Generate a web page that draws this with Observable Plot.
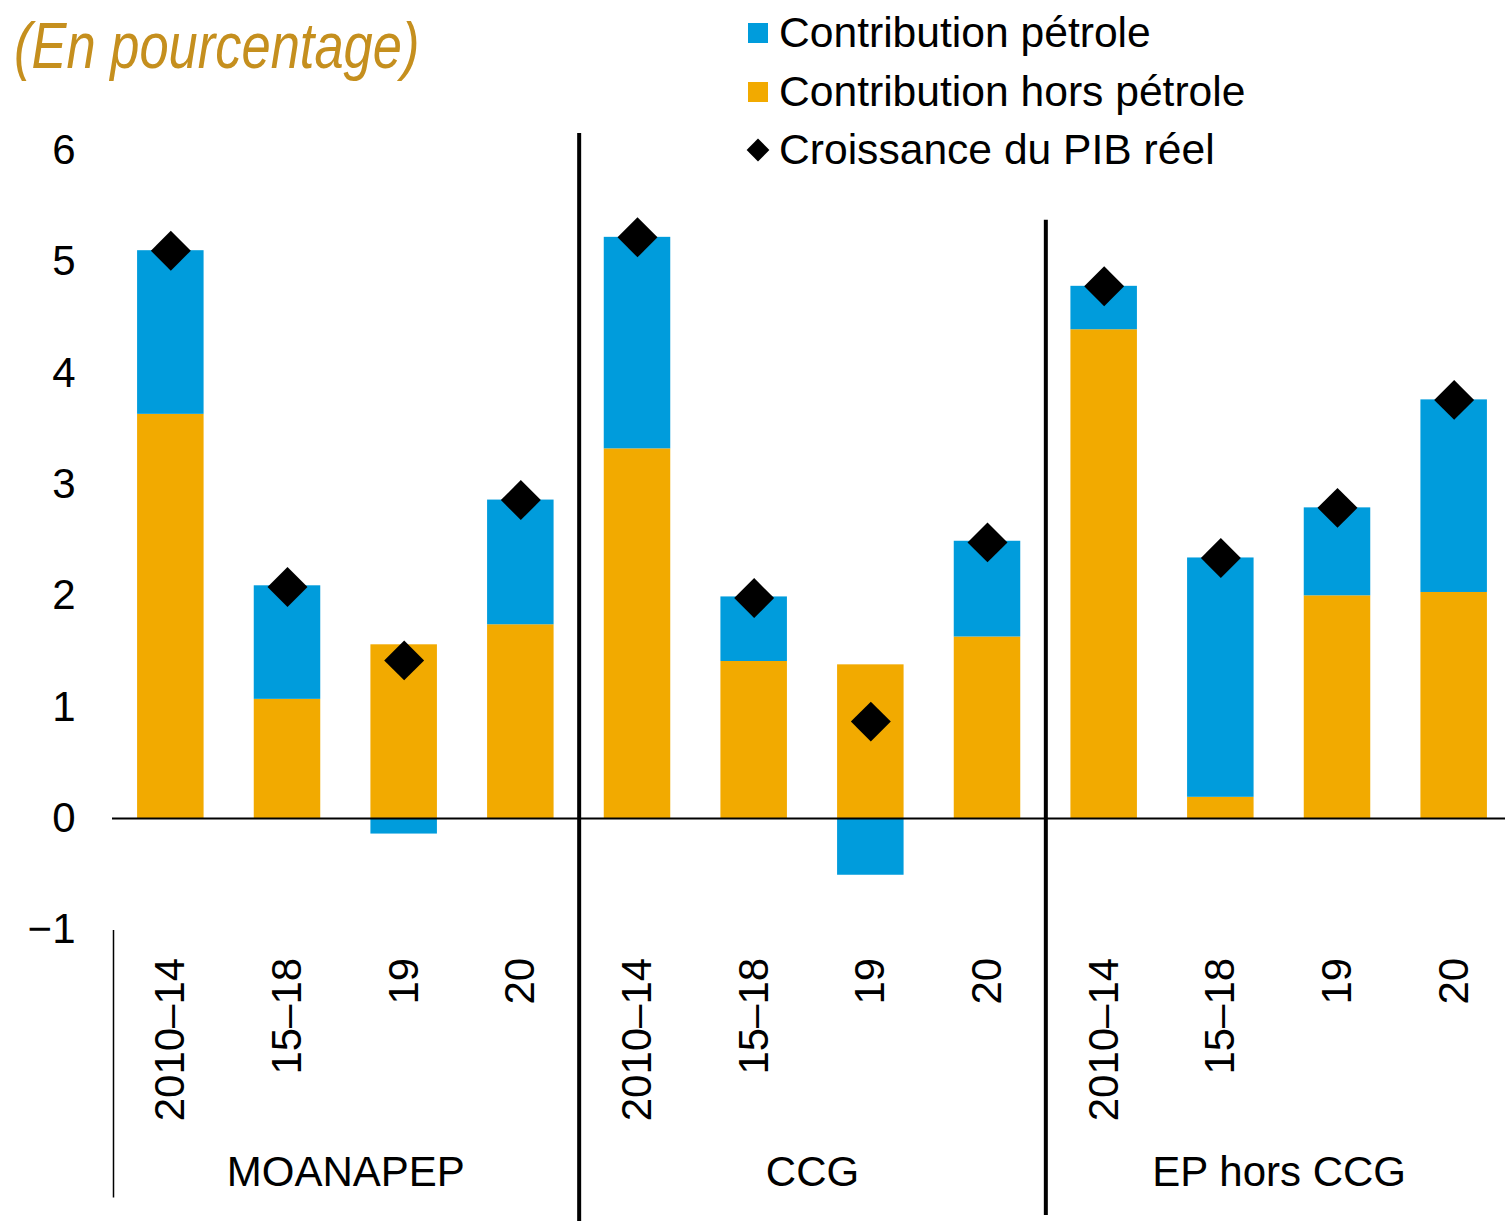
<!DOCTYPE html>
<html><head><meta charset="utf-8">
<script src="https://cdn.jsdelivr.net/npm/d3@7"></script>
<script src="https://cdn.jsdelivr.net/npm/@observablehq/plot@0.6"></script>
<style>
body{margin:0;background:#fff}
#wrap{position:relative;width:1505px;height:1221px;overflow:hidden}
#wrap svg{position:absolute;left:0;top:0}
</style>
</head><body><div id="wrap"></div>
<script>
// ---- data ----
const groups = ["MOANAPEP", "CCG", "EP hors CCG"];
const periods = ["2010–14", "15–18", "19", "20"];
const seriesNames = ["Contribution pétrole", "Contribution hors pétrole", "Croissance du PIB réel"];
const nonOil = [3.63, 1.07, 1.56, 1.74,  3.32, 1.41, 1.38, 1.63,  4.39, 0.19, 2.00, 2.03];
const oil    = [1.47, 1.02, -0.14, 1.12, 1.90, 0.58, -0.51, 0.86, 0.39, 2.15, 0.79, 1.73];
const gdp    = [5.10, 2.08, 1.42, 2.86,  5.22, 1.98, 0.87, 2.48,  4.78, 2.34, 2.79, 3.76];
const yTicks = [-1, 0, 1, 2, 3, 4, 5, 6];
const title = "(En pourcentage)";

// ---- tables ----
const keys = groups.flatMap(g => periods.map(p => `${g}|${p}`));
const rows = [];
keys.forEach((k, i) => {
  rows.push({key: k, series: seriesNames[1], value: nonOil[i]});
  rows.push({key: k, series: seriesNames[0], value: oil[i]});
});
const dots = keys.map((k, i) => ({key: k, value: gdp[i]}));

const W = 1505, H = 1221;
const xLeft = 112, xRight = 1512;
const step = (xRight - xLeft) / keys.length;
const blue = "#009CDC", orange = "#F2AA00", gold = "#C58F1E";
const FONT = "'Liberation Sans', Arial, sans-serif";

const plot = Plot.plot({
  width: W, height: H,
  marginTop: 150, marginBottom: 291.7, marginLeft: 112, marginRight: 0,
  style: {fontFamily: FONT, fontSize: "42px", color: "#000", background: "transparent", overflow: "visible"},
  x: {domain: keys, range: [xLeft, xRight], paddingInner: 0.43, paddingOuter: 0.215, align: 0.5, round: false},
  y: {domain: [-1, 6]},
  color: {domain: [seriesNames[1], seriesNames[0]], range: [orange, blue]},
  marks: [
    Plot.barY(rows, {x: "key", y: "value", fill: "series"}),
    Plot.ruleY([0], {stroke: "#000", strokeWidth: 2}),
    Plot.dot(dots, {x: "key", y: "value", symbol: "diamond2", r: 18, fill: "#000"}),
    Plot.axisY({ticks: yTicks, tickSize: 0, tickPadding: 37, tickFormat: d3.format("d"), label: null}),
    Plot.axisX({tickRotate: -90, tickSize: 0, tickPadding: 28, tickFormat: k => k.split("|")[1], label: null}),
    // group separators
    Plot.ruleX([`${groups[0]}|${periods[3]}`], {dx: step / 2, y1: 6.152, y2: -3.7, stroke: "#000", strokeWidth: 4}),
    Plot.ruleX([`${groups[1]}|${periods[3]}`], {dx: step / 2, y1: 5.373, y2: -3.566, stroke: "#000", strokeWidth: 4}),
    Plot.ruleX([`${groups[0]}|${periods[0]}`], {dx: -step / 2 + 1, y1: -1.007, y2: -3.41, stroke: "#000", strokeWidth: 1.5}),
    // group labels
    Plot.text(groups, {x: g => `${g}|${periods[1]}`, y: -1, dx: step / 2, dy: 243, text: d => d, fontSize: 42})
  ]
});
document.getElementById("wrap").appendChild(plot);

// ---- title and legend overlay ----
const ov = d3.select("#wrap").append("svg").attr("width", W).attr("height", 200)
  .style("font-family", FONT);
ov.append("text").attr("transform", "translate(14,68) scale(0.82,1)")
  .attr("font-size", 64).attr("font-style", "italic").attr("fill", gold).text(title);

const lg = [
  {name: seriesNames[0], color: blue, type: "sq", y: 47},
  {name: seriesNames[1], color: orange, type: "sq", y: 106},
  {name: seriesNames[2], color: "#000", type: "dia", y: 164}
];
lg.forEach(d => {
  if (d.type === "sq") {
    ov.append("rect").attr("x", 748).attr("y", d.y - 24).attr("width", 20).attr("height", 20).attr("fill", d.color);
  } else {
    ov.append("path").attr("transform", `translate(758,${d.y - 14})`)
      .attr("d", d3.symbol(d3.symbolDiamond2, 330)()).attr("fill", d.color);
  }
  ov.append("text").attr("x", 779).attr("y", d.y).attr("font-size", 42.6).attr("fill", "#000").text(d.name);
});
</script>
</body></html>
